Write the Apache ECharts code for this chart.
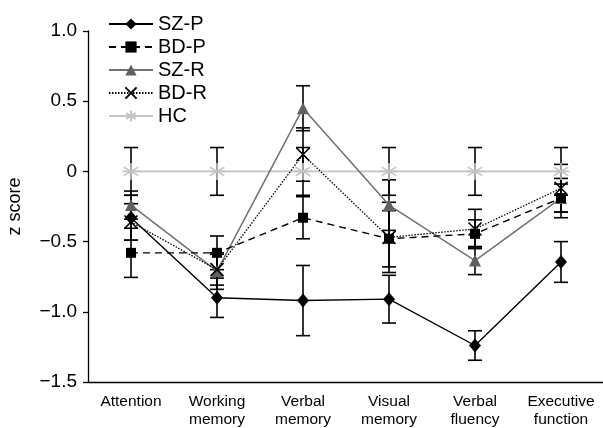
<!DOCTYPE html>
<html lang="en">
<head>
<meta charset="UTF-8">
<title>z score by domain</title>
<script src="https://cdn.jsdelivr.net/npm/echarts@6/dist/echarts.min.js"></script>
<style>
    html, body { margin: 0; padding: 0; background: #fff; }
    #chart { width: 603px; height: 428px; }
</style>
</head>
<body>
<div id="chart"></div>
<script>
    const categories = ['Attention', 'Working\nmemory', 'Verbal\nmemory', 'Visual\nmemory', 'Verbal\nfluency', 'Executive\nfunction'];
    const yTicks = [-1.5, -1.0, -0.5, 0, 0.5, 1.0];

    const szP    = [-0.33, -0.90, -0.92, -0.91, -1.24, -0.645];
    const szPErr = [0.16, 0.14, 0.25, 0.17, 0.105, 0.145];
    const bdP    = [-0.58, -0.58, -0.33, -0.48, -0.445, -0.19];
    const bdPErr = [0.175, 0.12, 0.15, 0.20, 0.10, 0.14];
    const szR    = [-0.24, -0.71, 0.45, -0.24, -0.635, -0.19];
    const szRErr = [0.10, 0.13, 0.16, 0.18, 0.10, 0.10];
    const bdR    = [-0.36, -0.70, 0.12, -0.47, -0.41, -0.12];
    const bdRErr = [0.13, 0.11, 0.19, 0.25, 0.14, 0.17];
    const hc     = [0, 0, 0, 0, 0, 0];
    const hcErr  = [0.17, 0.17, 0.17, 0.17, 0.17, 0.17];

    const chart = echarts.init(document.getElementById('chart'));

    const crossPath = 'path://M0,0L10,10M10,0L0,10';
    const starPath = 'path://M5,0L5,10M0.7,2.5L9.3,7.5M0.7,7.5L9.3,2.5M0,5L10,5';

    function errData(vals, errs) {
        return vals.map((v, i) => [i, v - errs[i], v + errs[i]]);
    }

    function errorBars(vals, errs, color) {
        return {
            type: 'custom',
            silent: true,
            z: 1,
            data: errData(vals, errs),
            renderItem: function (params, api) {
                const lo = api.coord([api.value(0), api.value(1)]);
                const hi = api.coord([api.value(0), api.value(2)]);
                const w = 7;
                const style = { stroke: color, lineWidth: 1.6 };
                return {
                    type: 'group',
                    children: [
                        { type: 'line', shape: { x1: hi[0], y1: hi[1], x2: lo[0], y2: lo[1] }, style: style },
                        { type: 'line', shape: { x1: hi[0] - w, y1: hi[1], x2: hi[0] + w, y2: hi[1] }, style: style },
                        { type: 'line', shape: { x1: lo[0] - w, y1: lo[1], x2: lo[0] + w, y2: lo[1] }, style: style }
                    ]
                };
            }
        };
    }

    function fmt(v) {
        if (v === 0) return '0';
        const s = Math.abs(v).toFixed(1);
        return v < 0 ? '\u2212' + s : s;
    }

    const option = {
        animation: false,
        backgroundColor: '#fff',
        grid: { left: 88, right: -1, top: 31, bottom: 46, outerBoundsMode: 'none', containLabel: false },
        legend: {
            orient: 'vertical',
            left: 103,
            top: 9,
            itemWidth: 44,
            itemHeight: 14,
            itemGap: 3,
            textStyle: { fontSize: 20, color: '#000', fontFamily: 'Liberation Sans, Arial' },
            data: ['SZ-P', 'BD-P', 'SZ-R', 'BD-R', 'HC']
        },
        xAxis: {
            type: 'category',
            data: categories,
            axisLine: { onZero: false, lineStyle: { color: '#000', width: 1.3 } },
            axisTick: { length: 6, lineStyle: { color: '#000', width: 1.3 } },
            axisLabel: { color: '#000', fontSize: 15.5, lineHeight: 18, margin: 11, fontFamily: 'Liberation Sans, Arial', interval: 0 }
        },
        yAxis: {
            type: 'value',
            min: yTicks[0],
            max: yTicks[yTicks.length - 1],
            interval: 0.5,
            splitLine: { show: false },
            name: 'z score',
            nameLocation: 'middle',
            nameGap: 64,
            nameTextStyle: { fontSize: 18, color: '#000', fontFamily: 'Liberation Sans, Arial' },
            axisLine: { show: true, lineStyle: { color: '#000', width: 1.3 } },
            axisTick: { show: true, length: 5, lineStyle: { color: '#000', width: 1.3 } },
            axisLabel: { color: '#000', fontSize: 19, margin: 11, fontFamily: 'Liberation Sans, Arial', formatter: fmt }
        },
        series: [
            errorBars(hc, hcErr, '#000'),
            errorBars(szR, szRErr, '#000'),
            errorBars(bdR, bdRErr, '#000'),
            errorBars(bdP, bdPErr, '#000'),
            errorBars(szP, szPErr, '#000'),
            {
                name: 'HC', type: 'line', data: hc, z: 2,
                symbol: starPath, symbolSize: 17,
                lineStyle: { color: '#c4c4c4', width: 1.6 },
                itemStyle: { color: 'transparent', borderColor: '#c4c4c4', borderWidth: 1.6 }
            },
            {
                name: 'SZ-R', type: 'line', data: szR, z: 3,
                symbol: 'triangle', symbolSize: 12,
                lineStyle: { color: '#707070', width: 1.5 },
                itemStyle: { color: '#606060' }
            },
            {
                name: 'BD-R', type: 'line', data: bdR, z: 4,
                symbol: crossPath, symbolSize: 13,
                lineStyle: { color: '#000', width: 1.3, type: [1.5, 1.5] },
                itemStyle: { color: 'transparent', borderColor: '#000', borderWidth: 1.6 }
            },
            {
                name: 'BD-P', type: 'line', data: bdP, z: 5,
                symbol: 'rect', symbolSize: 10,
                lineStyle: { color: '#000', width: 1.4, type: [7, 5] },
                itemStyle: { color: '#000' }
            },
            {
                name: 'SZ-P', type: 'line', data: szP, z: 6,
                symbol: 'diamond', symbolSize: [12, 14],
                lineStyle: { color: '#000', width: 1.4 },
                itemStyle: { color: '#000' }
            }
        ]
    };

    chart.setOption(option);
</script>
</body>
</html>
